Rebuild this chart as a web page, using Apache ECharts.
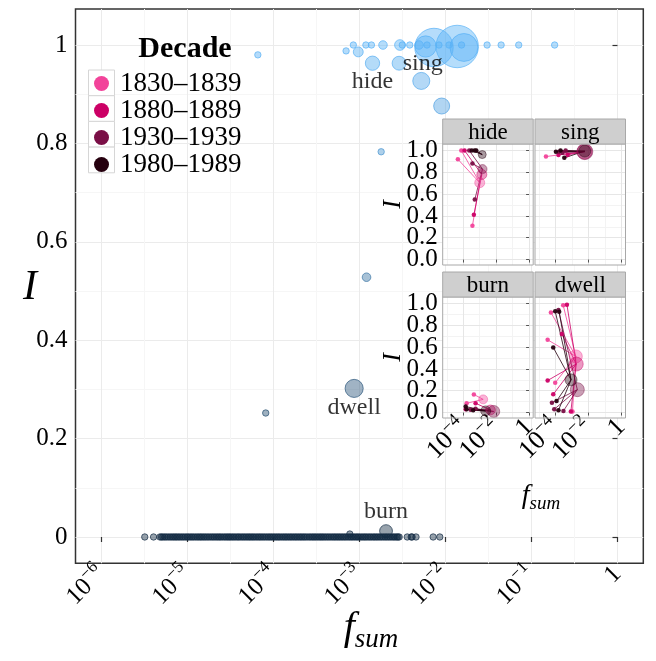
<!DOCTYPE html>
<html><head><meta charset="utf-8">
<script src="https://cdn.jsdelivr.net/npm/echarts@6/dist/echarts.min.js"></script>
<style>html,body{margin:0;padding:0;background:#fff}#c{width:656px;height:661px}</style>
</head><body><div id="c"></div>
<script>
// ---------------- DATA ----------------
const decadeNames = ['1830–1839', '1880–1889', '1930–1939', '1980–1989'];

// main panel: words with non-zero I (f_sum, I, relative size, label)
const mainFsum = [6.6e-5, 7.0e-4, 8.5e-4, 9.7e-4, 1.19e-3, 1.38e-3, 1.42e-3, 1.88e-3, 2.89e-3, 2.96e-3,
  3.15e-3, 3.85e-3, 4.93e-3, 5.24e-3, 5.89e-3, 6.11e-3, 7.36e-3, 8.41e-3, 1.10e-2, 1.37e-2,
  1.54e-2, 1.64e-2, 3.05e-2, 4.44e-2, 7.11e-2, 0.186, 9.04e-3, 1.79e-3, 1.21e-3, 8.69e-4,
  8.15e-5, 2.04e-3, 7.74e-4];
const mainI = [0.98, 0.988, 1.0, 0.986, 1.0, 1.0, 0.963, 1.0, 0.963, 1.0,
  1.0, 1.0, 1.0, 0.927, 0.997, 1.0, 0.995, 1.0, 1.0, 0.997,
  1.0, 0.995, 1.0, 1.0, 1.0, 1.0, 0.876, 0.783, 0.528, 0.302,
  0.252, 0.012, 0.006];
const mainSize = [1, 1, 1, 2.4, 1, 1, 5, 1.8, 4.7, 2.8,
  1, 1, 1.8, 7.1, 11, 1, 36, 1, 1, 44,
  1, 19, 1, 1, 1, 1, 6.25, 1, 1.8, 8,
  1, 4, 1];
const mainWord = ['', '', '', '', '', '', 'hide', '', '', '',
  '', '', '', '', 'sing', '', '', '', '', '',
  '', '', '', '', '', '', '', '', '', 'dwell',
  '', 'burn', ''];

// main panel: words with I = 0 (dense band), two reading passes
const zeroFsum = [3.2e-6, 4.05e-6, 4.8e-6, 5.2e-6, 5.7e-6, 6.3e-6, 6.9e-6, 7.5e-6, 8.2e-6, 9.0e-6,
  9.9e-6, 1.08e-5, 1.18e-5, 1.3e-5, 1.42e-5, 1.55e-5, 1.7e-5, 1.87e-5, 2.05e-5, 2.25e-5,
  2.45e-5, 2.7e-5, 2.95e-5, 3.2e-5, 3.5e-5, 3.85e-5, 4.2e-5, 4.6e-5, 5.05e-5, 5.5e-5,
  6.0e-5, 6.6e-5, 7.2e-5, 7.9e-5, 8.7e-5, 9.5e-5, 1.04e-4, 1.14e-4, 1.25e-4, 1.37e-4,
  1.5e-4, 1.64e-4, 1.8e-4, 1.97e-4, 2.15e-4, 2.35e-4, 2.6e-4, 2.85e-4, 3.1e-4, 3.4e-4,
  3.7e-4, 4.05e-4, 4.45e-4, 4.9e-4, 5.35e-4, 5.85e-4, 6.4e-4, 7.0e-4, 7.7e-4, 8.4e-4,
  9.2e-4, 1.0e-3, 1.1e-3, 1.2e-3, 1.32e-3, 1.45e-3, 1.58e-3, 1.73e-3, 1.9e-3, 2.08e-3,
  2.28e-3, 2.5e-3, 2.72e-3, 2.9e-3, 3.6e-3, 4.1e-3, 4.55e-3, 7.2e-3, 8.6e-3];
const zeroFsumB = [5.0e-6, 5.45e-6, 6.0e-6, 6.6e-6, 7.2e-6, 7.85e-6, 8.6e-6, 9.45e-6, 1.03e-5, 1.13e-5,
  1.24e-5, 1.36e-5, 1.48e-5, 1.62e-5, 1.78e-5, 1.96e-5, 2.15e-5, 2.35e-5, 2.57e-5, 2.82e-5,
  3.07e-5, 3.35e-5, 3.67e-5, 4.0e-5, 4.4e-5, 4.82e-5, 5.27e-5, 5.75e-5, 6.3e-5, 6.9e-5,
  7.55e-5, 8.3e-5, 9.1e-5, 9.95e-5, 1.09e-4, 1.19e-4, 1.31e-4, 1.43e-4, 1.57e-4, 1.72e-4,
  1.88e-4, 2.06e-4, 2.25e-4, 2.47e-4, 2.72e-4, 2.97e-4, 3.25e-4, 3.55e-4, 3.87e-4, 4.25e-4,
  4.67e-4, 5.12e-4, 5.6e-4, 6.12e-4, 6.7e-4, 7.35e-4, 8.05e-4, 8.8e-4, 9.6e-4, 1.05e-3,
  1.15e-3, 1.26e-3, 1.38e-3, 1.51e-3, 1.65e-3, 1.81e-3, 1.99e-3, 2.18e-3, 2.39e-3, 2.6e-3,
  2.81e-3, 4.0e-3];

// inset: targets [decade, f_sum, I, size], neighbours [decade, f_sum, I]
const hideTargets = [[0, 1.0e-3, 0.705, 6.25], [1, 1.34e-3, 0.78, 6.25], [2, 1.48e-3, 0.83, 5], [3, 1.42e-3, 0.963, 4]];
const hideNeighbors = [[0, 7.6e-5, 1.0], [0, 4.7e-5, 0.92], [0, 3.6e-4, 0.31], [1, 1.2e-4, 1.0], [1, 4.4e-4, 0.41],
  [2, 2.3e-4, 1.0], [2, 3.6e-4, 0.88], [2, 5.0e-4, 0.55], [3, 3.3e-4, 1.0], [3, 5.0e-4, 1.0], [3, 6.2e-4, 1.0]];
const singTargets = [[1, 5.8e-3, 0.99, 14], [2, 6.0e-3, 0.99, 16], [3, 5.9e-3, 0.995, 9]];
const singNeighbors = [[0, 2.6e-5, 0.945], [1, 1.5e-4, 0.96], [1, 5.4e-4, 0.96], [2, 1.66e-4, 0.99], [2, 2.6e-4, 0.98],
  [2, 4.1e-4, 1.0], [3, 1.05e-4, 0.99], [3, 3.4e-4, 0.933], [3, 2.0e-4, 1.0]];
const burnTargets = [[0, 1.62e-3, 0.121, 5], [1, 4.5e-3, 0.024, 6], [2, 7.1e-3, 0.01, 9], [3, 2.3e-3, 0.015, 6.25]];
const burnNeighbors = [[0, 4.4e-4, 0.166], [0, 1.6e-4, 0.085], [1, 5.6e-4, 0.085], [1, 1.4e-4, 0.03], [2, 5.6e-4, 0.036],
  [2, 2.8e-4, 0.025], [3, 1.4e-4, 0.055], [3, 1.6e-4, 0.03], [3, 4.0e-4, 0.02]];
const dwellTargets = [[0, 1.7e-3, 0.515, 10.6], [1, 1.8e-3, 0.445, 12.25], [2, 2.1e-3, 0.21, 12.25], [3, 8.7e-4, 0.30, 9]];
const dwellNeighbors = [[0, 2.9e-4, 0.985], [0, 5.2e-5, 0.918], [0, 3.3e-5, 0.667], [0, 9.5e-5, 0.273], [0, 1.07e-3, 0.01],
  [1, 4.9e-4, 0.99], [1, 2.4e-4, 0.72], [1, 3.3e-5, 0.294], [1, 7.2e-5, 0.167], [1, 8.5e-4, 0.01],
  [2, 1.5e-4, 0.94], [2, 6.0e-5, 0.09], [2, 8.3e-5, 0.03], [2, 3.0e-4, 0.015],
  [3, 9.5e-5, 0.93], [3, 1.66e-4, 0.924], [3, 7.2e-5, 0.597], [3, 1.15e-4, 0.106], [3, 1.5e-4, 0.021]];
const facetWords = ['hide', 'sing', 'burn', 'dwell'];

// tick values
const mainXTicks = [1e-6, 1e-5, 1e-4, 1e-3, 1e-2, 1e-1, 1];
const mainXMinor = [10 ** -5.5, 10 ** -4.5, 10 ** -3.5, 10 ** -2.5, 10 ** -1.5, 10 ** -0.5];
const mainYTicks = [0, 0.2, 0.4, 0.6, 0.8, 1];
const mainYMinor = [0.1, 0.3, 0.5, 0.7, 0.9];
const insetXTicks = [1e-4, 1e-2, 1];
const insetXMinor = [1e-5, 1e-3, 1e-1];
const insetYTicks = [0, 0.2, 0.4, 0.6, 0.8, 1.0];
const insetYMinor = [0.1, 0.3, 0.5, 0.7, 0.9];

// ---------------- STYLE / LAYOUT ----------------
const SERIF = '"Liberation Serif", "DejaVu Serif", serif';
const decadeColors = ['#F2439A', '#CC0066', '#7A0F46', '#26000F'];
const lg = v => Math.log10(v);
const LOW = [19, 43, 67], HIGH = [86, 177, 247];
function iColor(I, a) {
  const t = Math.max(0, Math.min(1, I));
  const c = LOW.map((l, k) => Math.round(l + (HIGH[k] - l) * t));
  return `rgba(${c[0]},${c[1]},${c[2]},${a})`;
}
function hexA(hex, a) {
  const n = parseInt(hex.slice(1), 16);
  return `rgba(${(n >> 16) & 255},${(n >> 8) & 255},${n & 255},${a})`;
}
function powFmt(v) {
  const e = Math.round(v);
  return e === 0 ? '{b|1}' : '{b|10}{s|−' + (-e) + '}';
}
const everyOther = (arr, start) => arr.filter((_, i) => i % 2 === start);
const labelOffsets = { hide: [0, 18], sing: [-3, 17], dwell: [0, 19], burn: [0, -19] };
const keepAll = { showMinLabel: true, showMaxLabel: true, hideOverlap: false };

const MAIN = { left: 75.5, top: 9, right: 643.3, bottom: 563.3 };
const XR = [-6.3, 0.3], YR = [-0.0535, 1.0732];
const IXR = [-5.25, 0.25], IYR = [-0.05, 1.06];
const panelPos = [[442.7, 144], [535, 144], [442.7, 297], [535, 297]];
const PW = 90.5, PH = 121, STRIP = 25;

const grids = [{ left: MAIN.left, top: MAIN.top, width: MAIN.right - MAIN.left, height: MAIN.bottom - MAIN.top,
  show: true, borderColor: '#333', borderWidth: 1.5, backgroundColor: 'transparent' }];
panelPos.forEach(p => grids.push({ left: p[0], top: p[1], width: PW, height: PH, show: false }));

const mainRich = {
  b: { fontFamily: SERIF, fontSize: 25, color: '#000', lineHeight: 34 },
  s: { fontFamily: SERIF, fontSize: 17, color: '#000', verticalAlign: 'top', lineHeight: 17 }
};
const insetRich = {
  b: { fontFamily: SERIF, fontSize: 26, color: '#000', lineHeight: 34 },
  s: { fontFamily: SERIF, fontSize: 18, color: '#000', verticalAlign: 'top', lineHeight: 18 }
};

const xAxes = [
  { type: 'value', gridIndex: 0, min: XR[0], max: XR[1], axisLine: { show: false },
    axisTick: { show: true, length: 5, lineStyle: { color: '#333', width: 1.2 }, customValues: mainXTicks.map(lg) },
    axisLabel: Object.assign({ customValues: mainXTicks.map(lg), rotate: 45, margin: 7, formatter: powFmt, rich: mainRich }, keepAll),
    splitLine: { show: true, lineStyle: { color: '#ebebeb', width: 1 } } },
  { type: 'value', gridIndex: 0, min: XR[0], max: XR[1], position: 'bottom', axisLine: { show: false },
    axisTick: { show: false, customValues: mainXMinor.map(lg) }, axisLabel: { show: false },
    splitLine: { show: true, lineStyle: { color: '#f6f6f6', width: 1 } } }
];
const yAxes = [
  { type: 'value', gridIndex: 0, min: YR[0], max: YR[1], axisLine: { show: false },
    axisTick: { show: true, length: 5, lineStyle: { color: '#333', width: 1.2 }, customValues: mainYTicks },
    axisLabel: Object.assign({ customValues: mainYTicks, margin: 8, fontFamily: SERIF, fontSize: 25, color: '#000',
      formatter: v => String(+v.toFixed(1)) }, keepAll),
    splitLine: { show: true, lineStyle: { color: '#ebebeb', width: 1 } } },
  { type: 'value', gridIndex: 0, min: YR[0], max: YR[1], position: 'left', axisLine: { show: false },
    axisTick: { show: false, customValues: mainYMinor }, axisLabel: { show: false },
    splitLine: { show: true, lineStyle: { color: '#f6f6f6', width: 1 } } }
];
const IAX = 3; // axes per inset panel (major, minor, extra labels)
panelPos.forEach((p, k) => {
  const gi = k + 1, isLeft = k % 2 === 0, isBottom = k >= 2;
  const xLab = { show: isBottom, rotate: 45, margin: 5, formatter: powFmt, rich: insetRich };
  const yLab = { show: isLeft, margin: 5, fontFamily: SERIF, fontSize: 25, color: '#000', formatter: v => v.toFixed(1) };
  xAxes.push({ type: 'value', gridIndex: gi, min: IXR[0], max: IXR[1], position: 'bottom', z: 3, axisLine: { show: false },
    axisTick: { show: true, length: 3, lineStyle: { color: '#555' }, customValues: insetXTicks.map(lg) },
    axisLabel: Object.assign({ customValues: everyOther(insetXTicks, 0).map(lg) }, xLab, keepAll),
    splitLine: { show: true, lineStyle: { color: '#e6e6e6', width: 1 } } });
  xAxes.push({ type: 'value', gridIndex: gi, min: IXR[0], max: IXR[1], position: 'bottom', z: 2, axisLine: { show: false },
    axisTick: { show: false, customValues: insetXMinor.map(lg) }, axisLabel: { show: false },
    splitLine: { show: true, lineStyle: { color: '#f3f3f3', width: 1 } } });
  xAxes.push({ type: 'value', gridIndex: gi, min: IXR[0], max: IXR[1], position: 'bottom', z: 3, axisLine: { show: false },
    axisTick: { show: false }, splitLine: { show: false },
    axisLabel: Object.assign({ customValues: everyOther(insetXTicks, 1).map(lg) }, xLab, keepAll) });
  yAxes.push({ type: 'value', gridIndex: gi, min: IYR[0], max: IYR[1], position: 'left', z: 3, axisLine: { show: false },
    axisTick: { show: isLeft, length: 3, lineStyle: { color: '#555' }, customValues: insetYTicks },
    axisLabel: Object.assign({ customValues: everyOther(insetYTicks, 0) }, yLab, keepAll),
    splitLine: { show: true, lineStyle: { color: '#e6e6e6', width: 1 } } });
  yAxes.push({ type: 'value', gridIndex: gi, min: IYR[0], max: IYR[1], position: 'left', z: 2, axisLine: { show: false },
    axisTick: { show: false, customValues: insetYMinor }, axisLabel: { show: false },
    splitLine: { show: true, lineStyle: { color: '#f3f3f3', width: 1 } } });
  yAxes.push({ type: 'value', gridIndex: gi, min: IYR[0], max: IYR[1], position: 'left', z: 3, axisLine: { show: false },
    axisTick: { show: false }, splitLine: { show: false },
    axisLabel: Object.assign({ customValues: everyOther(insetYTicks, 1) }, yLab, keepAll) });
});

// ---------------- SERIES ----------------
const mainPt = (f, I, w) => ({ value: [lg(f), I, w],
  itemStyle: { color: iColor(I, 0.55), borderColor: iColor(I, 0.95), borderWidth: 0.9 } });
const series = [
  { type: 'scatter', name: 'zero', xAxisIndex: 0, yAxisIndex: 0, z: 2,
    symbolSize: v => 6.4 * Math.sqrt(v[2]), data: zeroFsum.concat(zeroFsumB).map(f => mainPt(f, 0, 1)) },
  { type: 'scatter', name: 'words', xAxisIndex: 0, yAxisIndex: 0, z: 2,
    symbolSize: v => 6.4 * Math.sqrt(v[2]), data: mainFsum.map((f, i) => mainPt(f, mainI[i], mainSize[i])) },
  { type: 'scatter', name: 'labels', xAxisIndex: 0, yAxisIndex: 0, z: 8, symbolSize: 1,
    itemStyle: { color: 'rgba(0,0,0,0)' }, silent: true,
    label: { show: true, position: 'inside', formatter: p => p.name, fontFamily: SERIF, fontSize: 24, color: '#000' },
    data: mainFsum.map((f, i) => ({ f, I: mainI[i], w: mainWord[i] })).filter(o => o.w)
      .map(o => ({ name: o.w, value: [lg(o.f), o.I], label: { offset: labelOffsets[o.w] } })) }
];
const facetData = { hide: [hideTargets, hideNeighbors], sing: [singTargets, singNeighbors],
  burn: [burnTargets, burnNeighbors], dwell: [dwellTargets, dwellNeighbors] };
facetWords.forEach((word, k) => {
  const [targets, neighbors] = facetData[word];
  const xi = 2 + IAX * k, yi = 2 + IAX * k;
  decadeNames.forEach((dn, d) => {
    const nd = neighbors.filter(n => n[0] === d);
    const td = targets.filter(t => t[0] === d);
    series.push({ type: 'lines', name: 'link', coordinateSystem: 'cartesian2d', xAxisIndex: xi, yAxisIndex: yi,
      z: 3, silent: true, lineStyle: { color: decadeColors[d], width: 1, opacity: 0.8 },
      data: nd.map(n => {
        const t = targets.find(tt => tt[0] === n[0]) || targets[0];
        return { coords: [[lg(n[1]), n[2]], [lg(t[1]), t[2]]] };
      }) });
    series.push({ type: 'scatter', name: dn, xAxisIndex: xi, yAxisIndex: yi, z: 4, symbolSize: 4.5,
      itemStyle: { color: decadeColors[d], opacity: 0.95 },
      data: nd.map(n => [lg(n[1]), n[2]]) });
    series.push({ type: 'scatter', name: dn, xAxisIndex: xi, yAxisIndex: yi, z: 5,
      symbolSize: v => 4 * Math.sqrt(v[2]),
      itemStyle: { color: hexA(decadeColors[d], 0.5), borderColor: hexA(decadeColors[d], 0.8), borderWidth: 0.7 },
      data: td.map(t => [lg(t[1]), t[2], t[3]]) });
  });
});

// ---------------- GRAPHIC ----------------
const graphic = [];
panelPos.forEach((p, k) => {
  graphic.push({ type: 'rect', z: 1, silent: true, shape: { x: p[0], y: p[1], width: PW, height: PH }, style: { fill: '#fff' } });
  graphic.push({ type: 'rect', z: 6, silent: true, shape: { x: p[0], y: p[1], width: PW, height: PH },
    style: { fill: 'none', stroke: '#a8a8a8', lineWidth: 1 } });
  graphic.push({ type: 'rect', z: 6, silent: true, shape: { x: p[0], y: p[1] - STRIP, width: PW, height: STRIP },
    style: { fill: '#cfcfcf', stroke: '#a8a8a8', lineWidth: 1 } });
  graphic.push({ type: 'text', z: 7, silent: true, x: p[0] + PW / 2, y: p[1] - STRIP / 2 + 1,
    style: { text: facetWords[k], font: '23px ' + SERIF, fill: '#000', align: 'center', verticalAlign: 'middle' } });
  if (k % 2 === 0) {
    graphic.push({ type: 'text', z: 7, silent: true, x: 393, y: p[1] + PH / 2, rotation: Math.PI / 2,
      style: { text: 'I', font: 'italic 26px ' + SERIF, fill: '#000', align: 'center', verticalAlign: 'middle' } });
  }
});
for (let i = 0; i < 4; i++) {
  graphic.push({ type: 'rect', z: 3, silent: true, shape: { x: 88.5, y: 70 + 25.7 * i, width: 26, height: 25.7 },
    style: { fill: '#fff', stroke: '#d6d6d6', lineWidth: 1 } });
}
graphic.push({ type: 'text', z: 5, silent: true, x: 185, y: 49,
  style: { text: 'Decade', font: 'bold 30px ' + SERIF, fill: '#000', align: 'center', verticalAlign: 'middle' } });
graphic.push({ type: 'text', z: 5, silent: true, x: 30, y: 288,
  style: { text: 'I', font: 'italic 42px ' + SERIF, fill: '#000', align: 'center', verticalAlign: 'middle' } });
graphic.push({ type: 'text', z: 5, silent: true, x: 371, y: 628,
  style: { text: '{f|f}{s|sum}', align: 'center', verticalAlign: 'middle',
    rich: { f: { fontFamily: SERIF, fontStyle: 'italic', fontSize: 40, lineHeight: 50, fill: '#000', verticalAlign: 'middle' },
            s: { fontFamily: SERIF, fontStyle: 'italic', fontSize: 27, lineHeight: 27, fill: '#000', verticalAlign: 'bottom' } } } });
graphic.push({ type: 'text', z: 5, silent: true, x: 541, y: 496,
  style: { text: '{f|f}{s|sum}', align: 'center', verticalAlign: 'middle',
    rich: { f: { fontFamily: SERIF, fontStyle: 'italic', fontSize: 28, lineHeight: 34, fill: '#000', verticalAlign: 'middle' },
            s: { fontFamily: SERIF, fontStyle: 'italic', fontSize: 19, lineHeight: 19, fill: '#000', verticalAlign: 'bottom' } } } });

const chart = echarts.init(document.getElementById('c'), null, { renderer: 'canvas' });
chart.setOption({
  animation: false,
  backgroundColor: '#fff',
  grid: grids,
  xAxis: xAxes,
  yAxis: yAxes,
  legend: { orient: 'vertical', left: 94, top: 70, padding: 0, itemGap: 0, itemWidth: 15, itemHeight: 15,
    selectedMode: false, z: 5,
    data: decadeNames.map((d, i) => ({ name: d, icon: 'circle', itemStyle: { color: decadeColors[i], opacity: 1 } })),
    textStyle: { fontFamily: SERIF, fontSize: 27, color: '#000', lineHeight: 25.7, padding: [0, 0, 0, 6] } },
  graphic: graphic,
  series: series
});
</script></body></html>
